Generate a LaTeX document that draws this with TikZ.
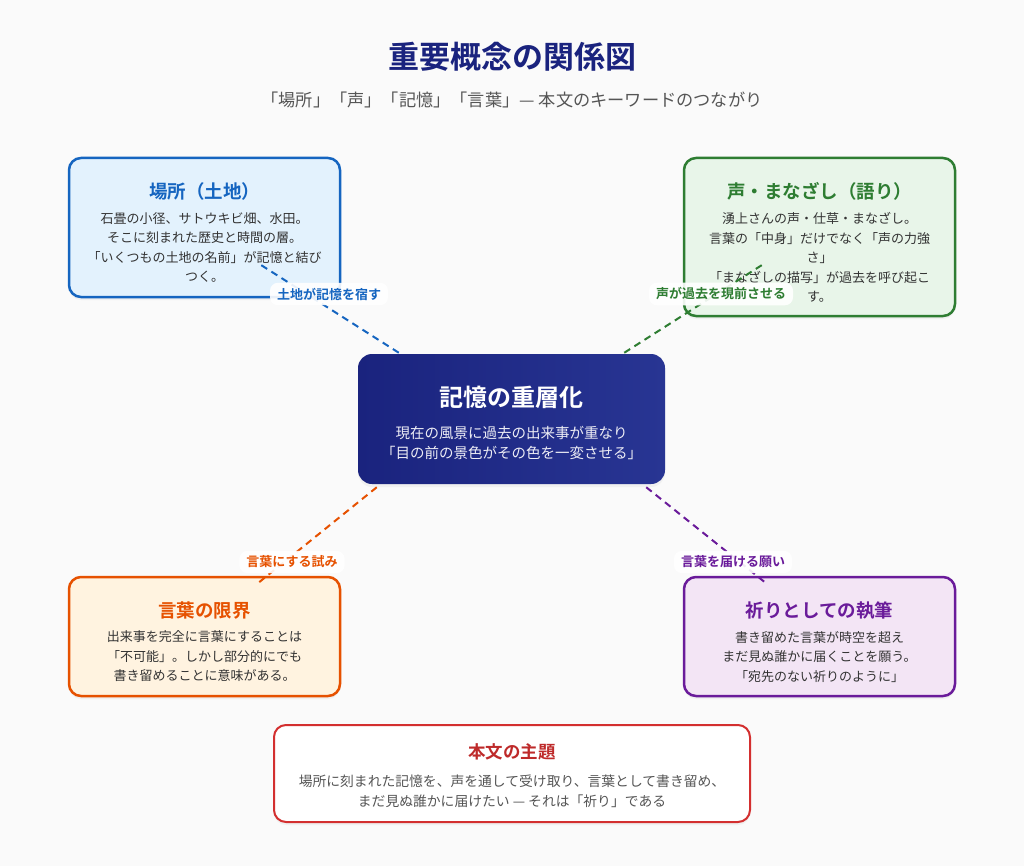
\documentclass[tikz,border=0pt]{standalone}
\usepackage{fontspec}
\setmainfont{Noto Sans CJK JP}[BoldFont={Noto Sans CJK JP Bold}]
\usetikzlibrary{positioning,shadows}
\definecolor{pageBg}{HTML}{FAFAFA}
\definecolor{navyA}{HTML}{1A237E}
\definecolor{navyB}{HTML}{283593}
\definecolor{placeC}{HTML}{1565C0}
\definecolor{placeF}{HTML}{E3F2FD}
\definecolor{voiceC}{HTML}{2E7D32}
\definecolor{voiceF}{HTML}{E8F5E9}
\definecolor{limitC}{HTML}{E65100}
\definecolor{limitF}{HTML}{FFF3E0}
\definecolor{prayC}{HTML}{6A1B9A}
\definecolor{prayF}{HTML}{F3E5F5}
\definecolor{themeC}{HTML}{D32F2F}
\definecolor{bodyText}{HTML}{333333}
\definecolor{greyText}{HTML}{555555}

\begin{document}
\begin{tikzpicture}[x=1pt,y=-1pt,
  box/.style={draw, rounded corners=12pt, line width=2.5pt, inner sep=0pt,
    drop shadow={opacity=0.08, shadow xshift=0pt, shadow yshift=-3pt}},
  ttl/.style={inner sep=0pt, font=\bfseries\fontsize{18.5}{22}\selectfont},
  txt/.style={inner sep=0pt, align=center, text=bodyText, font=\fontsize{13}{19.5}\selectfont},
  link/.style={line width=2pt, dash pattern=on 7pt off 5pt},
  lbl/.style={fill=white, fill opacity=0.9, text opacity=1, rounded corners=8pt,
    inner xsep=7pt, inner ysep=5pt, font=\bfseries\fontsize{13}{15}\selectfont}]
\useasboundingbox[fill=pageBg] (0,0) rectangle (1024,866);

%% heading
\node[inner sep=0pt, text=navyA, font=\bfseries\fontsize{31}{35}\selectfont] (head) at (512,57) {重要概念の関係図};
\node[inner sep=0pt, text=greyText, font=\fontsize{17.2}{20}\selectfont] (sub) at (512,100) {「場所」「声」「記憶」「言葉」— 本文のキーワードのつながり};

%% top left
\node[box, draw=placeC, fill=placeF, minimum width=271pt, minimum height=139pt] (place) at (204.5,227.5) {};
\node[ttl, text=placeC, below=25.5pt of place.north] (placeT) {場所（土地）};
\node[txt, below=11.5pt of placeT] (placeB) {石畳の小径、サトウキビ畑、水田。\\そこに刻まれた歴史と時間の層。\\「いくつもの土地の名前」が記憶と結び\\つく。};

%% top right
\node[box, draw=voiceC, fill=voiceF, minimum width=271pt, minimum height=158pt] (voice) at (819.5,237) {};
\node[ttl, text=voiceC, below=25.5pt of voice.north] (voiceT) {声・まなざし（語り）};
\node[txt, below=11.5pt of voiceT] (voiceB) {湧上さんの声・仕草・まなざし。\\言葉の「中身」だけでなく「声の力強\\さ」\\「まなざしの描写」が過去を呼び起こ\\す。};

%% bottom left
\node[box, draw=limitC, fill=limitF, minimum width=271pt, minimum height=119pt] (limit) at (204.5,636.5) {};
\node[ttl, text=limitC, below=25.5pt of limit.north] (limitT) {言葉の限界};
\node[txt, below=11.5pt of limitT] (limitB) {出来事を完全に言葉にすることは\\「不可能」。しかし部分的にでも\\書き留めることに意味がある。};

%% bottom right
\node[box, draw=prayC, fill=prayF, minimum width=271pt, minimum height=119pt] (pray) at (819.5,636.5) {};
\node[ttl, text=prayC, below=25.5pt of pray.north] (prayT) {祈りとしての執筆};
\node[txt, below=11.5pt of prayT] (prayB) {書き留めた言葉が時空を超え\\まだ見ぬ誰かに届くことを願う。\\「宛先のない祈りのように」};

%% centre
\node[box, draw=none, rounded corners=14pt, left color=navyA, right color=navyB,
  minimum width=307pt, minimum height=130pt] (core) at (511.5,419) {};
\node[inner sep=0pt, text=white, font=\bfseries\fontsize{24}{28}\selectfont, below=33.4pt of core.north] (coreT) {記憶の重層化};
\node[txt, text=navyA!8, font=\fontsize{14.5}{20}\selectfont, below=17.2pt of coreT] (coreB) {現在の風景に過去の出来事が重なり\\「目の前の景色がその色を一変させる」};

%% theme
\node[box, draw=themeC, fill=white, line width=2pt, minimum width=476pt, minimum height=97pt] (theme) at (512,773.5) {};
\node[ttl, text=themeC!90!black, font=\bfseries\fontsize{17.5}{21}\selectfont, below=19.8pt of theme.north] (themeT) {本文の主題};
\node[txt, text=greyText, font=\fontsize{13.8}{20}\selectfont, below=14pt of themeT] (themeB) {場所に刻まれた記憶を、声を通して受け取り、言葉として書き留め、\\まだ見ぬ誰かに届けたい — それは「祈り」である};

%% links
\coordinate (placeEnd) at ([xshift=-83pt,yshift=35pt]place.south east);
\coordinate (voiceEnd) at ([xshift=82pt,yshift=54pt]voice.south west);
\coordinate (limitEnd) at ([xshift=-84pt,yshift=-8pt]limit.north east);
\coordinate (prayEnd) at ([xshift=84pt,yshift=-8pt]pray.north west);
\draw[link, placeC] ([xshift=42pt]core.north west) -- (placeEnd);
\draw[link, voiceC] ([xshift=-42pt]core.north east) -- (voiceEnd);
\draw[link, limitC] ([xshift=20pt,yshift=-2pt]core.south west) -- (limitEnd);
\draw[link, prayC] ([xshift=-20pt,yshift=-2pt]core.south east) -- (prayEnd);
\node[lbl, text=placeC] (placeL) at (329,294) {土地が記憶を宿す};
\node[lbl, text=voiceC] (voiceL) at (721,294) {声が過去を現前させる};
\node[lbl, text=limitC] (limitL) at (292,562) {言葉にする試み};
\node[lbl, text=prayC] (prayL) at (733,562) {言葉を届ける願い};
\end{tikzpicture}
\end{document}
